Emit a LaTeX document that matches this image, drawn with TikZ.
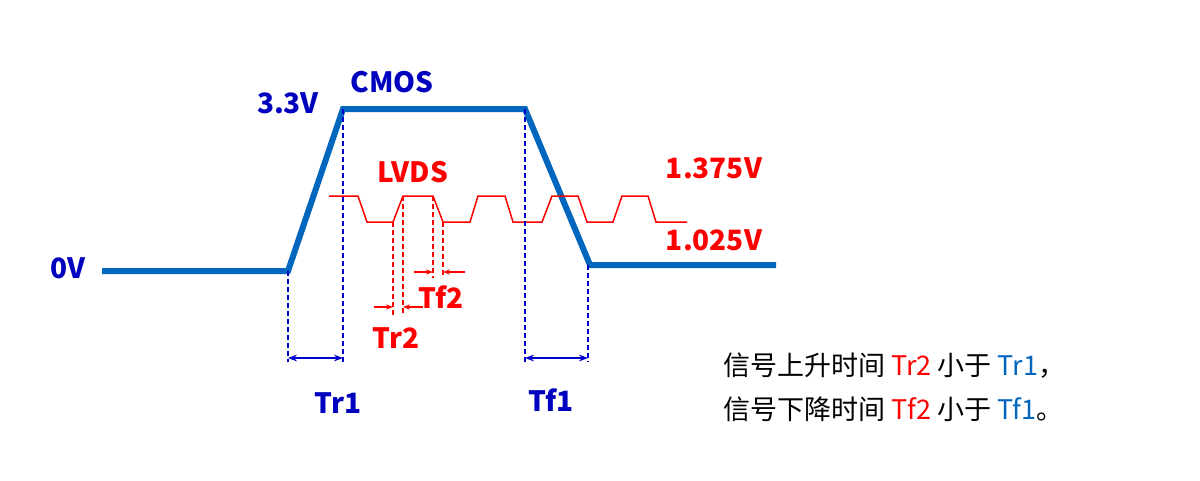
\documentclass[tikz,border=0pt]{standalone}
\usepackage{fontspec}
\usetikzlibrary{arrows.meta}
\setmainfont{Noto Sans CJK SC}
\definecolor{cblue}{RGB}{0,102,190}
\begin{document}
\begin{tikzpicture}[x=1pt,y=-1pt,
  lbl/.style={font=\fontsize{28}{30}\selectfont\bfseries},
  bl/.style={lbl,text=blue!75!black},
  rd/.style={lbl,text=red},
  cmos/.style={line width=6pt,color=cblue,line join=miter},
  bdash/.style={blue!80!black,dash pattern=on 5pt off 3pt,line width=1.5pt},
  rdash/.style={red,dash pattern=on 5pt off 3pt,line width=1.5pt},
  rarr/.style={red,line width=1.2pt,-{Stealth[length=7pt]}}]
\useasboundingbox (0,0) rectangle (1200,480);
\draw[cmos] (102,271)--(288,271)--(343,109)--(525,109)--(590,265)--(776,265);
\draw[red,line width=1.5pt] (329,196)--(358,196)--(367,222)--(393,222)--(403,196)--(433,196)--(443,222)--(470,222)--(478,196)--(505,196)--(513,222)--(542,222)--(552,196)--(578,196)--(587,222)--(613,222)--(622,196)--(648,196)--(656,222)--(687,222);
\foreach \x/\y in {288/271,343/109,525/109,588/265}
  \draw[bdash] (\x,\y)--(\x,362);
\draw[blue!80!black,line width=2.5pt,{Stealth[length=9pt]}-{Stealth[length=9pt]}] (288,358)--(343,358);
\draw[blue!80!black,line width=2.5pt,{Stealth[length=9pt]}-{Stealth[length=9pt]}] (525,358)--(588,358);
\draw[rdash] (393,222)--(393,316);
\draw[rdash] (403,196)--(403,316);
\draw[rdash] (433,196)--(433,278);
\draw[rdash] (443,222)--(443,278);
\draw[rarr] (374,307)--(393,307);
\draw[rarr] (423,307)--(403,307);
\draw[rarr] (414,272)--(433,272);
\draw[rarr] (465,272)--(443,272);
\node[bl] (v33) at (288,103) {3.3V};
\node[bl] (cm) at (392,82) {CMOS};
\node[bl] (v0) at (68,268) {0V};
\node[bl] (tr1) at (338,403) {Tr1};
\node[bl] (tf1) at (551,400) {Tf1};
\node[rd] (lv) at (413,172) {LVDS};
\node[rd] (hi) at (714,168) {1.375V};
\node[rd] (lo) at (714,240) {1.025V};
\node[rd] (tr2) at (396,338) {Tr2};
\node[rd] (tf2) at (441,297) {Tf2};
\node[anchor=west,font=\fontsize{27}{29}\selectfont] (t1) at (720,366) {信号上升时间 \textcolor{red}{Tr2} 小于 \textcolor{cblue}{Tr1}，};
\node[anchor=west,font=\fontsize{27}{29}\selectfont] (t2) at (720,409) {信号下降时间 \textcolor{red}{Tf2} 小于 \textcolor{cblue}{Tf1}。};
\end{tikzpicture}
\end{document}
